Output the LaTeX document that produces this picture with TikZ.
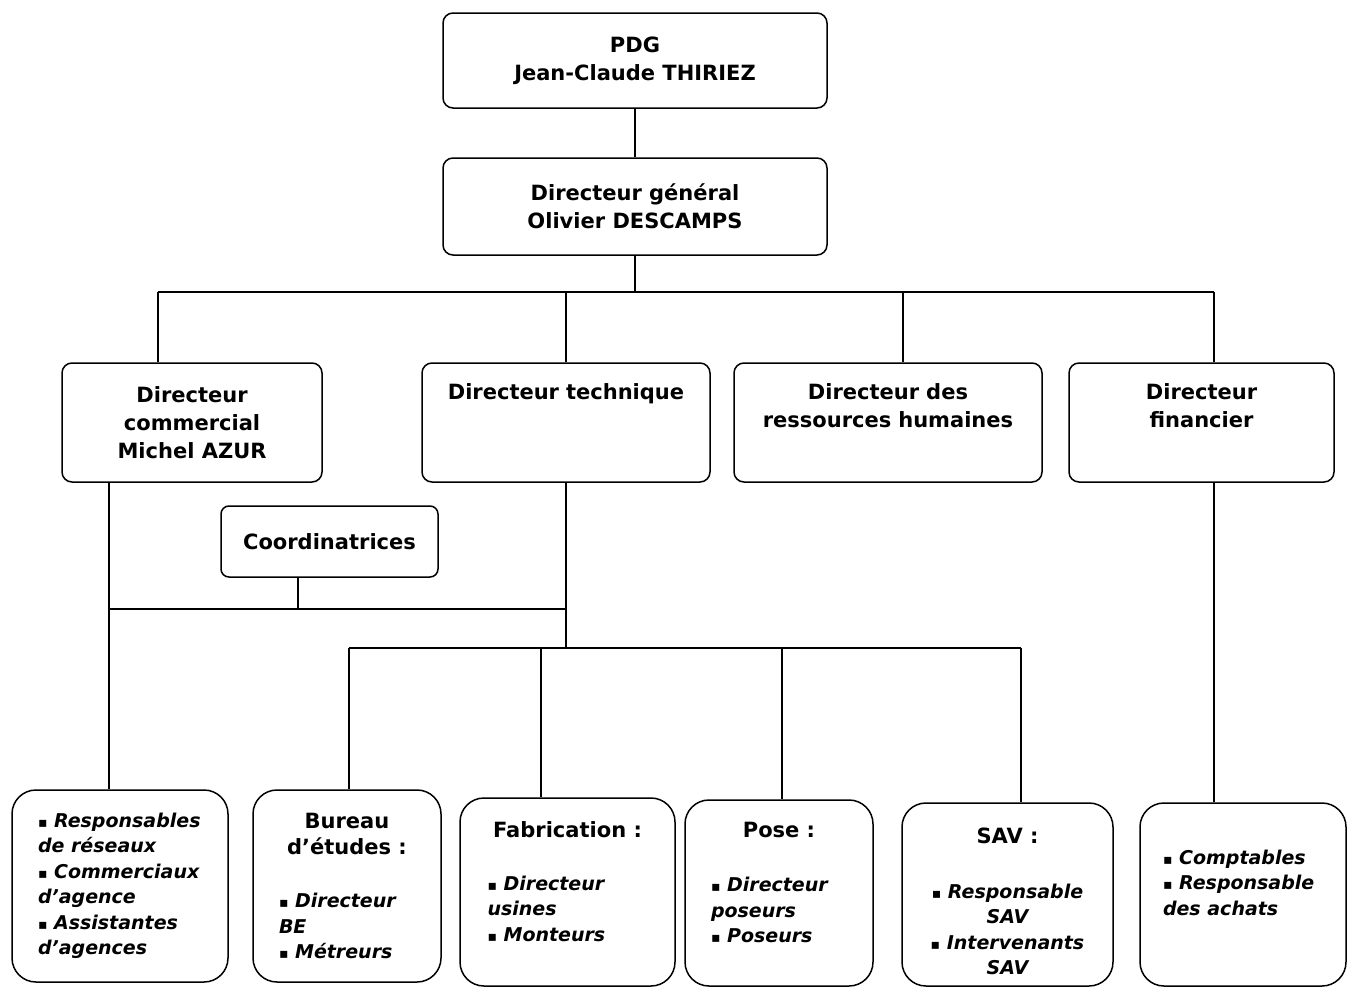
\documentclass[tikz,border=0pt]{standalone}
\usepackage{fontspec}
\setmainfont{DejaVu Sans}
\tikzset{
    box/.style={draw, line width=1.5pt, rounded corners=10pt, inner sep=0pt,
    	align=center, font=\fontsize{21}{28}\selectfont\bfseries},
    subbox/.style={draw, line width=1.5pt, rounded corners=24pt, inner sep=0pt,
    	font=\fontsize{19}{25.5}\selectfont\bfseries},
    link/.style={line width=1.5pt}
}
\newcommand{\puce}{{\fontsize{14}{14}\selectfont ▪}\ }
\newcommand{\titre}[1]{{\centering\fontsize{21}{26}\selectfont #1\par}}
\newcommand{\cadre}[4][\raggedright]{\parbox[c][#3][t]{#2}{#1#4}}

\begin{document}
\begin{tikzpicture}[x=1pt, y=-1pt]
  \useasboundingbox (0,0) rectangle (1347,988);

  \node (pdg) [box, minimum width=384pt, minimum height=95pt] at (635,60.5) {PDG\\Jean-Claude THIRIEZ};
  \node (dg) [box, minimum width=384pt, minimum height=97pt] at (635,206.5) {Directeur général\\Olivier DESCAMPS};
  \node (dcom) [box, minimum width=260pt, minimum height=119pt] at (192,422.5) {Directeur\\commercial\\Michel AZUR};
  \node (dtech) [box, minimum width=288pt, minimum height=119pt, text width=270pt, text depth=61pt] at (566,422.5) {Directeur technique};
  \node (drh) [box, minimum width=308pt, minimum height=119pt, text width=290pt, text depth=61pt] at (888,422.5) {Directeur des\\ressources humaines};
  \node (dfin) [box, minimum width=265pt, minimum height=119pt, text width=245pt, text depth=61pt] at (1201.5,422.5) {Directeur\\financier};
  \node (coord) [box, rounded corners=8pt, minimum width=217pt, minimum height=71pt] at (329.5,541.5) {Coordinatrices};

  \node (resp) [subbox, minimum width=216pt, minimum height=192pt] at (120,886)
    {\cadre{164pt}{146pt}{\itshape\puce Responsables\\de réseaux\\\puce Commerciaux\\d’agence\\\puce Assistantes\\d’agences}};
  \node (be) [subbox, minimum width=188pt, minimum height=192pt] at (347,886)
    {\cadre{136pt}{146pt}{\titre{Bureau\\d’études :}\vspace{28pt}\itshape\puce Directeur\\BE\\\puce Métreurs}};
  \node (fab) [subbox, minimum width=215pt, minimum height=188pt] at (567.5,892)
    {\cadre{160pt}{140pt}{\titre{Fabrication :}\vspace{27pt}\itshape\puce Directeur\\usines\\\puce Monteurs}};
  \node (pose) [subbox, minimum width=188pt, minimum height=186pt] at (779,893)
    {\cadre{136pt}{142pt}{\titre{Pose :}\vspace{29pt}\itshape\puce Directeur\\poseurs\\\puce Poseurs}};
  \node (sav) [subbox, minimum width=211pt, minimum height=183pt] at (1007.5,894.5)
    {\cadre[\centering]{190pt}{133pt}{\titre{SAV :}\vspace{29pt}\itshape\puce Responsable\\SAV\\\puce Intervenants\\SAV}};
  \node (compta) [subbox, minimum width=206pt, minimum height=183pt] at (1243,894.5)
    {\cadre{160pt}{89pt}{\itshape\puce Comptables\\\puce Responsable\\des achats}};

  \coordinate (bus) at (635,292);
  \coordinate (h1) at (158,292);
  \coordinate (h2) at (566,292);
  \coordinate (h3) at (903,292);
  \coordinate (h4) at (1214,292);
  \coordinate (c1) at (109,609);
  \coordinate (c2) at (566,609);
  \coordinate (c3) at (298,609);
  \coordinate (t0) at (566,648);
  \coordinate (t1) at (349,648);
  \coordinate (t2) at (541,648);
  \coordinate (t3) at (782,648);
  \coordinate (t4) at (1021,648);
  \coordinate (f1) at (1214,600);

  \draw[link] (pdg) -- (dg); \draw[link] (dg) -- (bus); \draw[link] (h1) -- (h4);
  \draw[link] (h1) -- (h1 |- dcom.north); \draw[link] (h2) -- (h2 |- dtech.north);
  \draw[link] (h3) -- (h3 |- drh.north); \draw[link] (h4) -- (h4 |- dfin.north);
  \draw[link] (c1 |- dcom.south) -- (c1 |- resp.north); \draw[link] (c1) -- (c2);
  \draw[link] (c3 |- coord.south) -- (c3);
  \draw[link] (dtech) -- (t0); \draw[link] (t1) -- (t4);
  \draw[link] (t1) -- (t1 |- be.north); \draw[link] (t2) -- (t2 |- fab.north);
  \draw[link] (t3) -- (t3 |- pose.north); \draw[link] (t4) -- (t4 |- sav.north);
  \draw[link] (f1 |- dfin.south) -- (f1 |- compta.north);

\end{tikzpicture}
\end{document}
